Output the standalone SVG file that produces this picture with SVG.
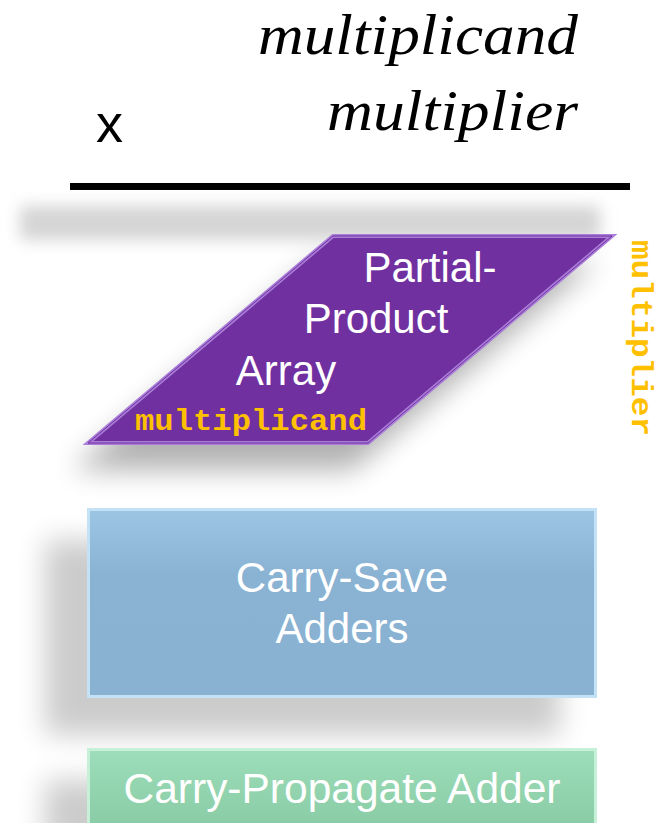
<svg xmlns="http://www.w3.org/2000/svg" width="658" height="823" viewBox="0 0 658 823">
<defs>
<filter id="blur8" x="-20%" y="-50%" width="140%" height="200%"><feGaussianBlur stdDeviation="8"/></filter>
<filter id="blur14" x="-30%" y="-60%" width="160%" height="220%"><feGaussianBlur stdDeviation="14"/></filter>
<linearGradient id="blueG" x1="0" y1="0" x2="0" y2="1">
<stop offset="0" stop-color="#9DC6E5"/><stop offset="0.35" stop-color="#8AB2D3"/><stop offset="1" stop-color="#88B1D2"/>
</linearGradient>
<linearGradient id="greenG" x1="0" y1="0" x2="0" y2="1">
<stop offset="0" stop-color="#9EDEBB"/><stop offset="1" stop-color="#86C9A2"/>
</linearGradient>
</defs>
<style>
.lbl{font-family:"Liberation Sans",Arial,sans-serif;fill:#ffffff;font-size:42px;text-anchor:middle}
.mono{font-family:"Liberation Mono","Courier New",monospace;font-weight:bold;fill:#FFC000;font-size:29px}
.ital{font-family:"Liberation Serif","Times New Roman",serif;font-style:italic;font-size:58px;fill:#000}
</style>
<rect width="658" height="823" fill="#ffffff"/>
<g id="equation">
<text class="ital" x="258" y="54" textLength="320" lengthAdjust="spacingAndGlyphs">multiplicand</text>
<text class="ital" x="327" y="130" textLength="251" lengthAdjust="spacingAndGlyphs">multiplier</text>
<text x="96" y="142" font-family="Liberation Sans,Arial,sans-serif" font-size="54" fill="#000">x</text>
<rect x="70" y="183" width="560" height="7" fill="#000"/>
<rect x="20" y="206" width="580" height="34" fill="#d4d4d4" filter="url(#blur8)"/>
</g>
<g id="ppa">
<polygon points="318,262 596,262 352,470 72,470" fill="#000" opacity="0.3" filter="url(#blur14)"/>
<polygon points="333,236 612,236 368,443 88,443" fill="#7030A0"/>
<polygon points="333,236 612,236 368,443 88,443" fill="none" stroke="#A97DD8" stroke-width="4"/>
<polygon points="333,236 612,236 368,443 88,443" fill="none" stroke="#7030A0" stroke-width="1"/>
<text class="lbl" x="430" y="282">Partial-</text>
<text class="lbl" x="376" y="333">Product</text>
<text class="lbl" x="286" y="385">Array</text>
<text class="mono" x="135" y="430" textLength="232" lengthAdjust="spacingAndGlyphs">multiplicand</text>
<text class="mono" transform="translate(632,240) rotate(90)" x="0" y="0" textLength="196" lengthAdjust="spacingAndGlyphs">multiplier</text>
</g>
<g id="csa">
<rect x="45" y="540" width="515" height="195" fill="#000" opacity="0.2" filter="url(#blur14)"/>
<rect x="87" y="508" width="510" height="190" fill="url(#blueG)"/>
<rect x="88.5" y="509.5" width="507" height="187" fill="none" stroke="#C4E2F5" stroke-width="3"/>
<text class="lbl" x="342" y="592">Carry-Save</text>
<text class="lbl" x="342" y="643">Adders</text>
</g>
<g id="cpa">
<rect x="45" y="780" width="515" height="70" fill="#000" opacity="0.2" filter="url(#blur14)"/>
<rect x="87" y="748" width="510" height="90" fill="url(#greenG)"/>
<rect x="88.5" y="749.5" width="507" height="90" fill="none" stroke="#C6F0D8" stroke-width="3"/>
<text class="lbl" x="342" y="803" textLength="437" lengthAdjust="spacingAndGlyphs">Carry-Propagate Adder</text>
</g>
<g id="connectors"/>
</svg>
